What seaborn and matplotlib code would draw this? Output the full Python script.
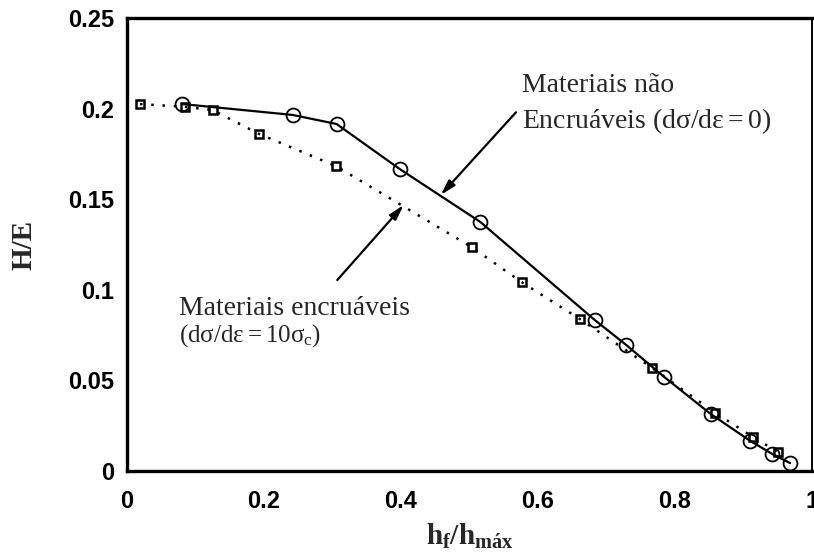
import matplotlib
matplotlib.use("Agg")
import matplotlib.pyplot as plt
import seaborn as sns
import pandas as pd

# Non-hardening materials (dσ/dε = 0): solid line, open circles
hf_nh = [0.081, 0.242, 0.306, 0.398, 0.516, 0.683, 0.729, 0.784, 0.852, 0.910, 0.942, 0.968]
he_nh = [0.2025, 0.1965, 0.1915, 0.1667, 0.1374, 0.0833, 0.0695, 0.0520, 0.0315, 0.0166, 0.0094, 0.0044]

# Hardening materials (dσ/dε = 10σc): dotted line, open squares
hf_h = [0.019, 0.084, 0.125, 0.193, 0.305, 0.503, 0.576, 0.661, 0.767, 0.859, 0.914, 0.950]
he_h = [0.2025, 0.2010, 0.1992, 0.1860, 0.1683, 0.1236, 0.1043, 0.0839, 0.0568, 0.0320, 0.0188, 0.0105]

x_ticks = [0, 0.2, 0.4, 0.6, 0.8, 1]
x_tick_labels = ["0", "0.2", "0.4", "0.6", "0.8", "1"]
y_ticks = [0, 0.05, 0.1, 0.15, 0.2, 0.25]
y_tick_labels = ["0", "0.05", "0.1", "0.15", "0.2", "0.25"]

sns.set_style("white")
plt.rcParams["font.family"] = ["Liberation Serif", "DejaVu Serif"]
plt.rcParams["mathtext.fontset"] = "custom"
plt.rcParams["mathtext.rm"] = "Liberation Serif"
plt.rcParams["mathtext.it"] = "Liberation Serif"
plt.rcParams["mathtext.bf"] = "Liberation Serif:bold"

df_nh = pd.DataFrame({"hf": hf_nh, "HE": he_nh})
df_h = pd.DataFrame({"hf": hf_h, "HE": he_h})

fig = plt.figure(figsize=(8.14, 5.54), dpi=100)
ax = fig.add_axes([0.156, 0.1498, 0.8415, 0.8177])

sns.lineplot(data=df_h, x="hf", y="HE", ax=ax, color="black", linestyle=(0, (1, 3.5)),
             linewidth=1.8, marker="s", markersize=6, markerfacecolor="none",
             markeredgecolor="black", markeredgewidth=1.8)
sns.lineplot(data=df_nh, x="hf", y="HE", ax=ax, color="black", linestyle="-",
             linewidth=1.6, marker="o", markersize=10, markerfacecolor="none",
             markeredgecolor="black", markeredgewidth=1.3)

ax.set_xlim(0, 1)
ax.set_ylim(0, 0.25)
ax.set_xticks(x_ticks)
ax.set_xticklabels(x_tick_labels)
ax.set_yticks(y_ticks)
ax.set_yticklabels(y_tick_labels)
for lab in ax.get_xticklabels() + ax.get_yticklabels():
    lab.set_fontfamily("Liberation Sans")
    lab.set_fontsize(17)
    lab.set_fontweight("bold")
ax.tick_params(axis="x", direction="in", length=7, width=2.2, pad=14, colors="black")
ax.tick_params(axis="y", direction="in", length=8, width=2.2, pad=9, colors="black")

for side, sp in ax.spines.items():
    sp.set_visible(True)
    sp.set_color("black")
    sp.set_linewidth(2.4 if side in ("left", "bottom", "top") else 1.4)

ax.set_xlabel(r"$\mathbf{h}_{\mathbf{f}}\mathbf{/h}_{\mathbf{máx}}$", fontsize=21, labelpad=6)
ax.set_ylabel("H/E", fontsize=21, fontweight="bold", labelpad=22)

arrow = dict(arrowstyle="-|>,head_length=0.9,head_width=0.25", color="black", lw=1.6,
             shrinkA=0, shrinkB=0)
ax.annotate("", xy=(0.458, 0.1523), xytext=(0.568, 0.198), arrowprops=arrow)
ax.annotate("", xy=(0.404, 0.1468), xytext=(0.307, 0.1054), arrowprops=arrow)

ax.text(0.576, 0.2092, "Materiais não", fontsize=20, ha="left", va="baseline")
ax.text(0.576, 0.1893, r"Encruáveis $(\mathrm{d}\sigma/\mathrm{d}\varepsilon = 0)$",
        fontsize=20, ha="left", va="baseline")
ax.text(0.0756, 0.0861, "Materiais encruáveis", fontsize=20, ha="left", va="baseline")
ax.text(0.0756, 0.0712, r"$(\mathrm{d}\sigma/\mathrm{d}\varepsilon = 10\sigma_{\mathrm{c}})$",
        fontsize=18, ha="left", va="baseline")

fig.savefig("out.png", dpi=100)
